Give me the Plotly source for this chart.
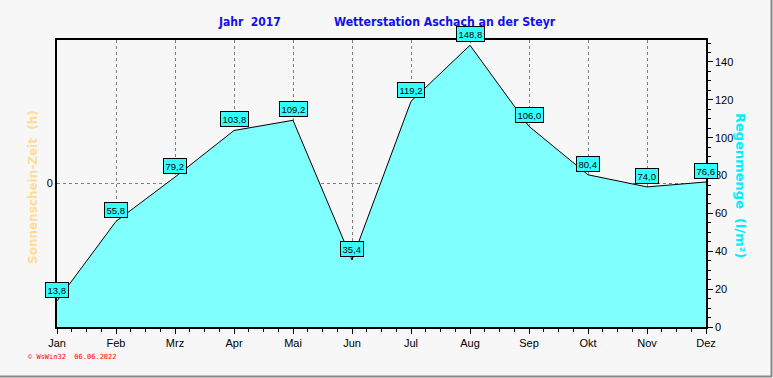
import plotly.graph_objects as go

months = ["Jan", "Feb", "Mrz", "Apr", "Mai", "Jun", "Jul", "Aug", "Sep", "Okt", "Nov", "Dez"]
rain = [13.8, 55.8, 79.2, 103.8, 109.2, 35.4, 119.2, 148.8, 106.0, 80.4, 74.0, 76.6]
rain_ticks = [0, 20, 40, 60, 80, 100, 120, 140]

W, H = 773, 378
L, R, T, B = 57, 67, 40, 51
pw, ph = W - L - R, H - T - B


def px(xp):
    return (xp - L) / pw


def py(yp):
    return (H - B - yp) / ph


x = list(range(len(months)))

fig = go.Figure()
fig.add_trace(go.Scatter(
    x=x, y=rain, mode="lines", fill="tozeroy",
    fillcolor="#80ffff", line=dict(color="black", width=1),
    hoverinfo="skip", showlegend=False, yaxis="y"))
fig.add_trace(go.Scatter(x=[0], y=[0], mode="markers", marker=dict(opacity=0),
                         yaxis="y2", showlegend=False, hoverinfo="skip"))

for xi, v in zip(x, rain):
    fig.add_annotation(
        x=xi, y=v, xref="x", yref="y", text=f"{v:.1f}".replace(".", ","),
        showarrow=False, xanchor="center", yanchor="bottom", yshift=3,
        font=dict(family="Liberation Sans", size=9.5, color="black"),
        bgcolor="#33ffff", bordercolor="black", borderwidth=1, borderpad=1.5)

blue = "#1010ee"


def note(xp, yp, text, font, angle=0, xanchor="center"):
    fig.add_annotation(x=px(xp), y=py(yp), xref="paper", yref="paper", text=text,
                       showarrow=False, textangle=angle, xanchor=xanchor, yanchor="middle",
                       font=font)


note(249, 22, "<b>Jahr  2017</b>", dict(family="DejaVu Sans Condensed", size=12, color=blue))
note(445, 22, "<b>Wetterstation Aschach an der Steyr</b>",
     dict(family="DejaVu Sans Condensed", size=12.2, color=blue))
note(741, 185, "<b>Regenmenge  (l/m²)</b>",
     dict(family="DejaVu Sans", size=13, color="#00eeff"), angle=90)
note(33, 187, "<b>Sonnenschein-Zeit  (h)</b>",
     dict(family="DejaVu Sans", size=12, color="#ffdd99"), angle=-90)
note(26, 357, "© WsWin32  06.06.2022",
     dict(family="DejaVu Sans Mono", size=7, color="red"), xanchor="left")

# outer frame (right and bottom)
fig.add_shape(type="line", xref="paper", yref="paper",
              x0=px(771.5), x1=px(771.5), y0=py(377), y1=py(0),
              line=dict(color="#888888", width=2))
fig.add_shape(type="line", xref="paper", yref="paper",
              x0=px(0), x1=px(772), y0=py(376.5), y1=py(376.5),
              line=dict(color="#888888", width=2))

fig.update_layout(
    width=W, height=H, margin=dict(l=L, r=R, t=T, b=B),
    paper_bgcolor="#f7f7f7", plot_bgcolor="#f7f7f7",
    font=dict(family="Liberation Sans", size=11, color="black"),
    xaxis=dict(range=[0, 11], tickvals=x, ticktext=months, showline=True, mirror=True,
               linecolor="black", linewidth=2, ticks="outside", ticklen=5, tickcolor="black",
               showgrid=True, gridcolor="#808080", griddash="3px,3px", gridwidth=1,
               minor=dict(dtick=0.25, tick0=0, ticks="outside", ticklen=3, tickcolor="black", showgrid=False),
               zeroline=False, tickfont=dict(size=11)),
    yaxis=dict(range=[0, 151.6], side="right", tickvals=rain_ticks, showline=True,
               linecolor="black", linewidth=1.5, ticks="outside", ticklen=5, tickcolor="black",
               showgrid=False, zeroline=False,
               minor=dict(dtick=5, tick0=0, ticks="outside", ticklen=3, tickcolor="black"),
               tickfont=dict(size=11)),
    yaxis2=dict(range=[-1, 1], overlaying="y", side="left", tickvals=[0], ticktext=["0"],
                showline=True, linecolor="black", linewidth=2, ticks="", showgrid=True,
                gridcolor="#808080", griddash="3px,3px", zeroline=False, tickfont=dict(size=11)),
)

fig.write_html("out.html", config={"displayModeBar": False},
               post_script="document.body.style.margin='0';document.body.style.overflow='hidden';")
